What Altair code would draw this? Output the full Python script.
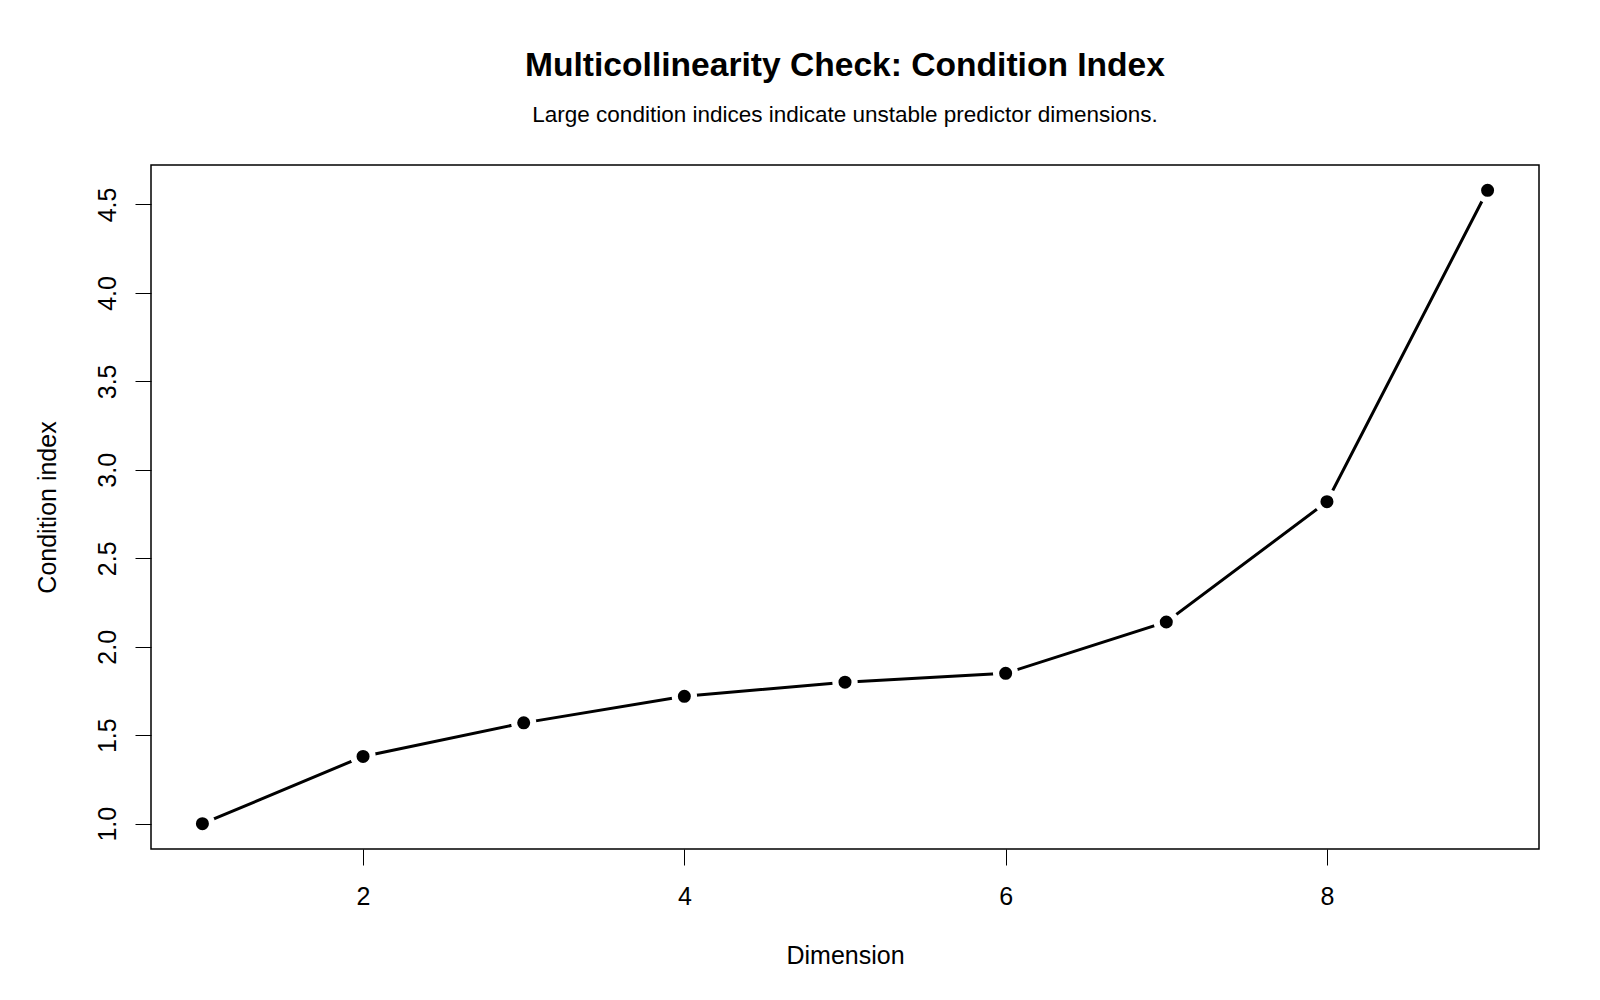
import altair as alt
import pandas as pd

# Condition index for each eigen-dimension of the predictor matrix
dimension = [1, 2, 3, 4, 5, 6, 7, 8, 9]
condition_index = [1.00, 1.38, 1.57, 1.72, 1.80, 1.85, 2.14, 2.82, 4.58]

x_ticks = [2, 4, 6, 8]
y_ticks = [1.0, 1.5, 2.0, 2.5, 3.0, 3.5, 4.0, 4.5]

df = pd.DataFrame({"dimension": dimension, "ci": condition_index})

FONT = "Liberation Sans"

x_enc = alt.X(
    "dimension:Q",
    title="Dimension",
    scale=alt.Scale(domain=[0.68, 9.32], nice=False, zero=False),
    axis=alt.Axis(
        values=x_ticks,
        format="d",
        grid=False,
        domain=False,
        tickColor="black",
        tickSize=16,
        tickWidth=1,
        labelFontSize=25,
        labelColor="black",
        labelFont=FONT,
        labelPadding=19,
        titleFontSize=25,
        titleFont=FONT,
        titleFontWeight="normal",
        titleColor="black",
        titlePadding=34,
    ),
)
y_enc = alt.Y(
    "ci:Q",
    title="Condition index",
    scale=alt.Scale(domain=[0.857, 4.723], nice=False, zero=False),
    axis=alt.Axis(
        values=y_ticks,
        format=".1f",
        grid=False,
        domain=False,
        tickColor="black",
        tickSize=16,
        tickWidth=1,
        labelFontSize=25,
        labelColor="black",
        labelFont=FONT,
        labelAngle=-90,
        labelAlign="center",
        labelBaseline="bottom",
        labelPadding=15,
        titleFontSize=25,
        titleFont=FONT,
        titleFontWeight="normal",
        titleColor="black",
        titlePadding=35,
    ),
)

base = alt.Chart(df).encode(x=x_enc, y=y_enc)

line = base.mark_line(color="black", strokeWidth=3)
# white halos leave the small gaps between the line and each point
halo = base.mark_circle(color="white", opacity=1, size=640)
points = base.mark_circle(color="black", opacity=1, size=170)

chart = (
    alt.layer(line, halo, points)
    .properties(
        width=1388,
        height=684,
        autosize=alt.AutoSizeParams(type="none"),
        padding={"left": 151, "top": 165, "right": 61, "bottom": 151},
        title=alt.TitleParams(
            text="Multicollinearity Check: Condition Index",
            subtitle="Large condition indices indicate unstable predictor dimensions.",
            anchor="middle",
            font=FONT,
            fontSize=33.6,
            fontWeight="bold",
            color="black",
            subtitleFont=FONT,
            subtitleFontSize=22.5,
            subtitleColor="black",
            subtitlePadding=21,
            offset=39,
        ),
    )
    .configure(background="white")
    .configure_view(stroke="black", strokeWidth=1.5, strokeOpacity=1)
)

chart.save("out.html", embed_options={"renderer": "svg", "actions": False})
